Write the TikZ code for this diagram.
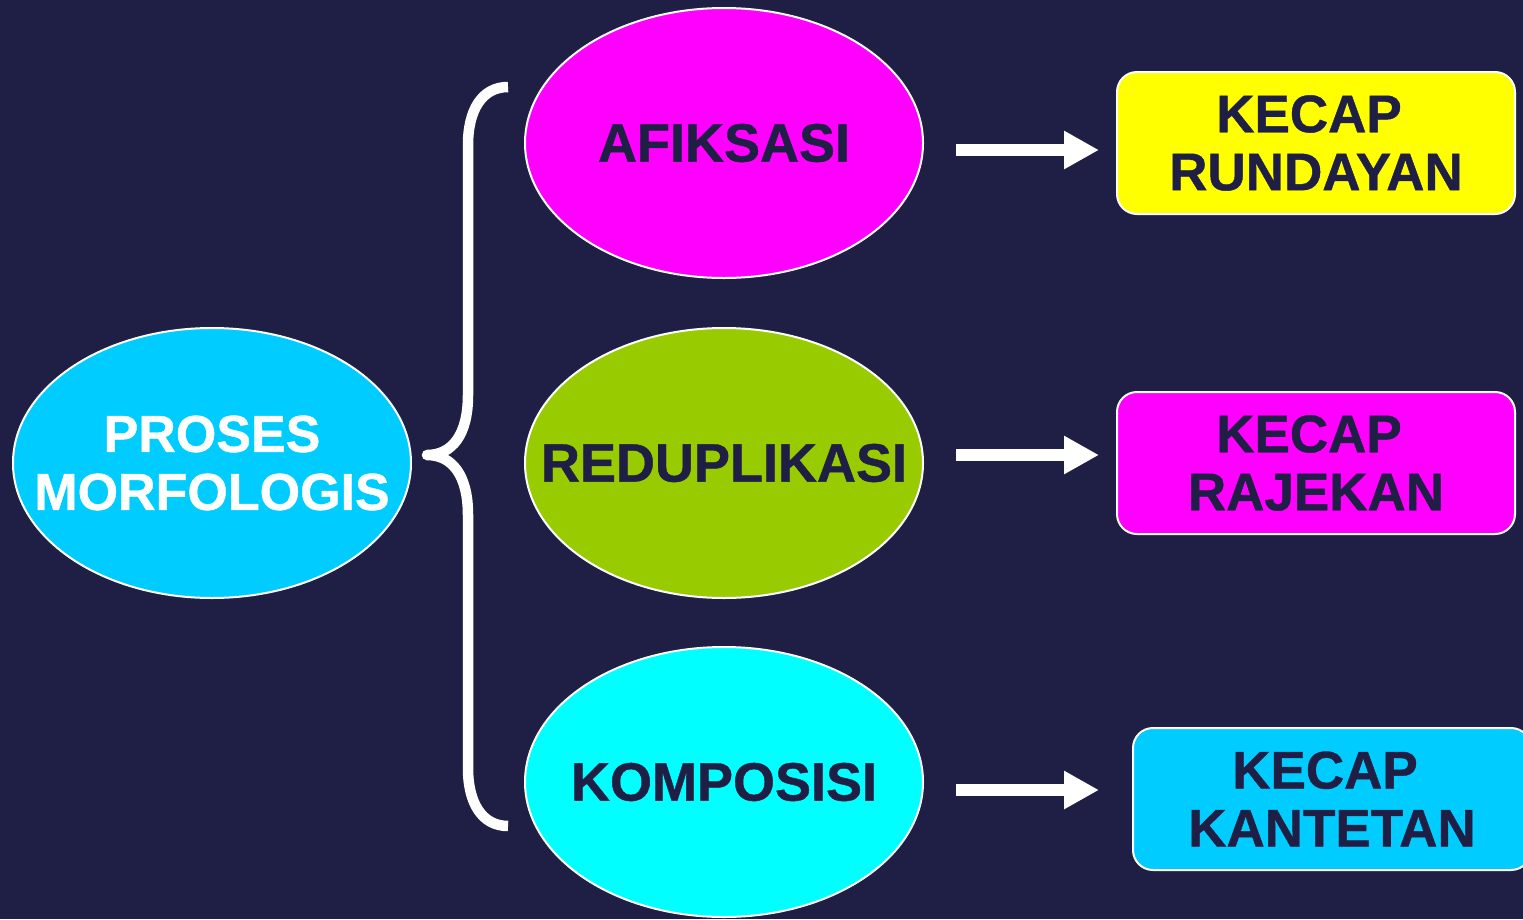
\documentclass[tikz,border=0pt]{standalone}
\usepackage{fontspec}
\usetikzlibrary{shapes.geometric,arrows.meta}
\newfontfamily\lbl[FakeBold=0.8]{Liberation Sans Bold}
\definecolor{bg}{HTML}{1F1F45}
\definecolor{cyanA}{HTML}{00CCFF}
\definecolor{magA}{HTML}{FF00FF}
\definecolor{grnA}{HTML}{99CC00}
\definecolor{aquaA}{HTML}{00FFFF}
\definecolor{yelA}{HTML}{FFFF00}
\tikzset{
  oval/.style={ellipse, draw=white, line width=2pt, minimum width=398pt, minimum height=270pt, inner sep=0pt},
  ovtxt/.style={text=bg, align=center, inner sep=0pt, font=\lbl\fontsize{54pt}{58pt}\selectfont},
  kbox/.style={rectangle, rounded corners=20pt, draw=white, line width=2pt, minimum width=398pt, minimum height=142pt, inner sep=0pt, text=bg, align=center, font=\lbl\fontsize{53pt}{58pt}\selectfont},
  arr/.style={draw=white, line width=12pt, -{Triangle[length=35pt,width=36pt]}},
  bracel/.style={draw=white, line width=10.5pt, line join=round}
}
\begin{document}
\begin{tikzpicture}[x=1pt,y=-1pt]
\fill[bg] (0,0) rectangle (1523,919);
\useasboundingbox (0,0) rectangle (1523,919);
% ellipses
\node[oval, fill=cyanA] (pm) at (212,463) {};
\node[ovtxt, text=white, font=\lbl\fontsize{52pt}{58pt}\selectfont] (pmt) at (pm.center) {PROSES\\MORFOLOGIS};
\node[oval, fill=magA] (af) at (724,143) {};
\node[ovtxt] (aft) at (af.center) {AFIKSASI};
\node[oval, fill=grnA] (rd) at (724,463) {};
\node[ovtxt] (rdt) at (rd.center) {REDUPLIKASI};
\node[oval, fill=aquaA] (km) at (724,782) {};
\node[ovtxt] (kmt) at (km.center) {KOMPOSISI};
% boxes
\node[kbox, fill=yelA] (kr) at (1316,143) {KECAP\kern14pt\\RUNDAYAN};
\node[kbox, fill=magA] (kj) at (1316,463) {KECAP\kern14pt\\RAJEKAN};
\node[kbox, fill=cyanA] (kk) at (1332,799) {KECAP\kern14pt\\KANTETAN};
% brace
\coordinate (bt) at (508,87);
\coordinate (bm) at (427,455);
\coordinate (bb) at (508,826);
\draw[bracel] (bt) .. controls (482,87) and (468,110) .. (468,145)
  -- (468,395) .. controls (468,435) and (452,455) .. (bm)
  .. controls (452,455) and (468,475) .. (468,515)
  -- (468,768) .. controls (468,803) and (482,826) .. (bb);
% arrows
\coordinate (a1s) at (956,150); \coordinate (a1e) at (1099,150);
\coordinate (a2s) at (956,455); \coordinate (a2e) at (1099,455);
\coordinate (a3s) at (956,790); \coordinate (a3e) at (1099,790);
\draw[arr] (a1s) -- (a1e);
\draw[arr] (a2s) -- (a2e);
\draw[arr] (a3s) -- (a3e);
\end{tikzpicture}
\end{document}
